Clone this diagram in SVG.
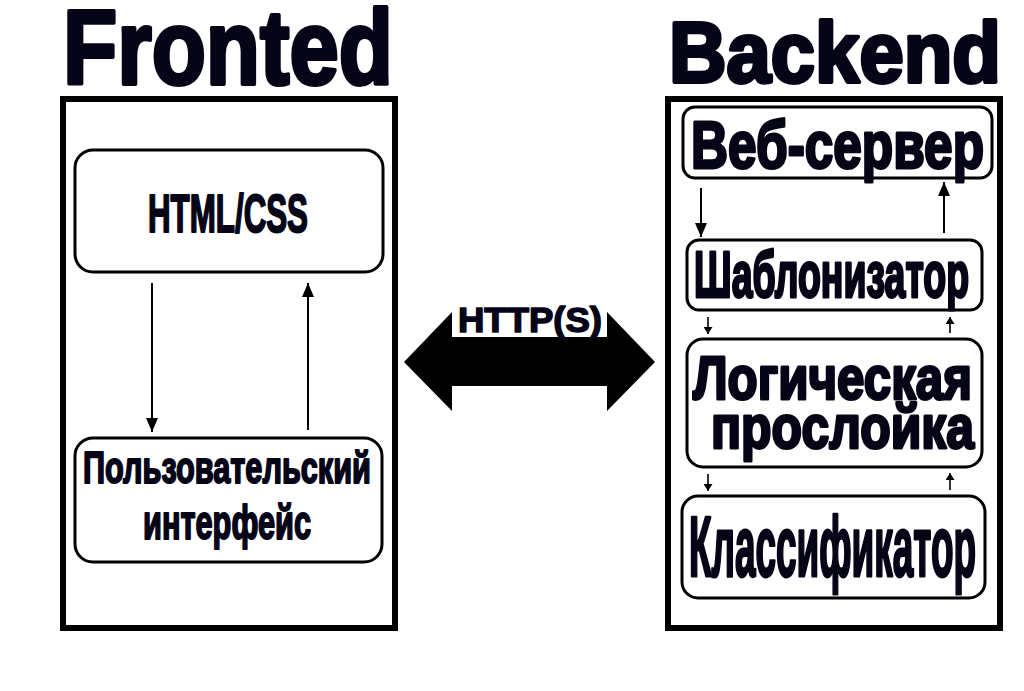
<svg xmlns="http://www.w3.org/2000/svg" width="1024" height="691" viewBox="0 0 1024 691">
<style>
.t{font-family:"Liberation Sans Narrow","Liberation Sans","DejaVu Sans",sans-serif;font-weight:bold;fill:#050517;stroke:#050517;stroke-linejoin:round}
.outer{fill:none;stroke:#000;stroke-width:6}
.box{fill:#fff;stroke:#000;stroke-width:3}
.ln{stroke:#000;stroke-width:2;fill:none}
.lns{stroke:#000;stroke-width:1.6;fill:none}
</style>
<defs>
<marker id="ah" viewBox="0 0 14 12" refX="14" refY="6" markerWidth="14" markerHeight="12" markerUnits="userSpaceOnUse" orient="auto">
<path d="M0,0 L14,6 L0,12 z" fill="#000"/>
</marker>
<marker id="as" viewBox="0 0 7 9" refX="7" refY="4.5" markerWidth="7" markerHeight="9" markerUnits="userSpaceOnUse" orient="auto">
<path d="M0,0 L7,4.5 L0,9 z" fill="#000"/>
</marker>
</defs>
<rect width="1024" height="691" fill="#fff"/>

<g id="title-frontend">
<text class="t" x="63" y="84" font-size="106" textLength="330" lengthAdjust="spacingAndGlyphs" stroke-width="4">Fronted</text>
</g>
<g id="title-backend">
<text class="t" x="669" y="82" font-size="86" textLength="332" lengthAdjust="spacingAndGlyphs" stroke-width="4">Backend</text>
</g>

<g id="frontend-frame"><rect class="outer" x="63" y="99" width="332" height="529"/></g>
<g id="backend-frame"><rect class="outer" x="668" y="99" width="332" height="529"/></g>

<g id="html-css">
<rect class="box" x="75" y="150" width="308" height="122" rx="18"/>
<text class="t" x="148" y="232" font-size="54" textLength="160" lengthAdjust="spacingAndGlyphs" stroke-width="2">HTML/CSS</text>
</g>
<g id="user-interface">
<rect class="box" x="75" y="438" width="307" height="124" rx="18"/>
<text class="t" x="83" y="483" font-size="45" textLength="288" lengthAdjust="spacingAndGlyphs" stroke-width="2">Пользовательский</text>
<text class="t" x="143" y="539" font-size="48" textLength="168" lengthAdjust="spacingAndGlyphs" stroke-width="2">интерфейс</text>
</g>

<g id="web-server">
<rect class="box" x="683" y="107" width="309" height="71" rx="12"/>
<text class="t" x="691" y="168" font-size="66" textLength="293" lengthAdjust="spacingAndGlyphs" stroke-width="3">Веб-сервер</text>
</g>
<g id="templater">
<rect class="box" x="687" y="240" width="295" height="70" rx="12"/>
<text class="t" x="694" y="297" font-size="64" textLength="275" lengthAdjust="spacingAndGlyphs" stroke-width="3">Шаблонизатор</text>
</g>
<g id="logic-layer">
<rect class="box" x="687" y="339" width="295" height="128" rx="16"/>
<text class="t" x="693" y="399" font-size="62" textLength="279" lengthAdjust="spacingAndGlyphs" stroke-width="3">Логическая</text>
<text class="t" x="711" y="448" font-size="62" textLength="263" lengthAdjust="spacingAndGlyphs" stroke-width="3">прослойка</text>
</g>
<g id="classifier">
<rect class="box" x="682" y="496" width="303" height="102" rx="16"/>
<text class="t" x="689" y="576" font-size="86" textLength="287" lengthAdjust="spacingAndGlyphs" stroke-width="3">Классификатор</text>
</g>

<g id="connectors">
<line class="ln" x1="152" y1="283" x2="152" y2="432" marker-end="url(#ah)"/>
<line class="ln" x1="308" y1="430" x2="308" y2="283" marker-end="url(#ah)"/>
<line class="ln" x1="701" y1="188" x2="701" y2="237" marker-end="url(#ah)"/>
<line class="ln" x1="944" y1="233" x2="944" y2="182" marker-end="url(#ah)"/>
<line class="lns" x1="708" y1="317" x2="708" y2="334" marker-end="url(#as)"/>
<line class="lns" x1="950" y1="333" x2="950" y2="317" marker-end="url(#as)"/>
<line class="lns" x1="708" y1="474" x2="708" y2="491" marker-end="url(#as)"/>
<line class="lns" x1="950" y1="490" x2="950" y2="473" marker-end="url(#as)"/>
<g id="http-arrow">
<polygon points="404,362 452,312 452,337 607,337 607,312 655,362 607,411 607,386 452,386 452,411" fill="#000"/>
<text class="t" x="458" y="332" font-size="35" textLength="144" lengthAdjust="spacingAndGlyphs" stroke-width="1.5">HTTP(S)</text>
</g>
</g>
</svg>
